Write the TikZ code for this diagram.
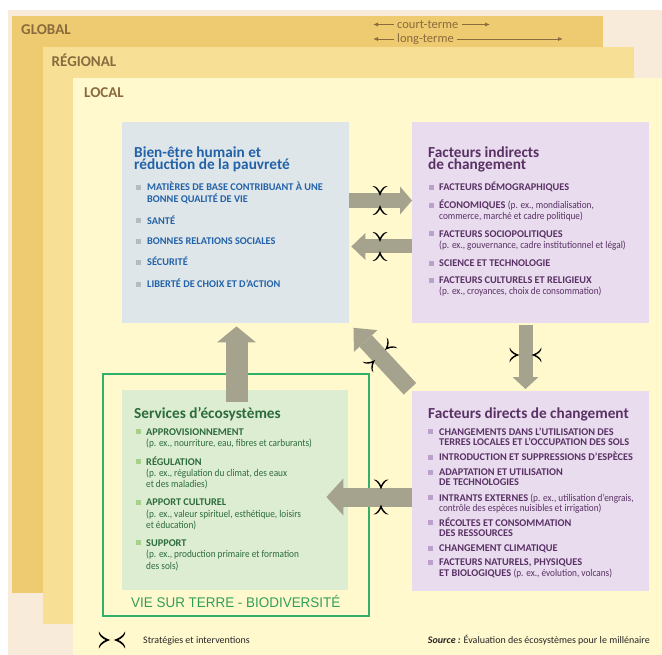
\documentclass[tikz,border=0pt]{standalone}
\usepackage{fontspec}
\setmainfont{Carlito}
\newfontfamily\cnd[FakeStretch=0.9]{Carlito}
\newfontfamily\arl[FakeStretch=0.96]{Liberation Sans}
\usetikzlibrary{arrows.meta}
\definecolor{outerbg}{HTML}{F9EBD9}
\definecolor{globalbg}{HTML}{EECB70}
\definecolor{regionbg}{HTML}{F7E096}
\definecolor{localbg}{HTML}{FFF9CD}
\definecolor{bienbg}{HTML}{DFE6E9}
\definecolor{purpbg}{HTML}{E8DCEE}
\definecolor{greenbg}{HTML}{DDEDD2}
\definecolor{arrowc}{HTML}{A5A38D}
\definecolor{bluet}{HTML}{2262A8}
\definecolor{purpt}{HTML}{5A3165}
\definecolor{greent}{HTML}{2C6B3B}
\definecolor{brownt}{HTML}{8A6B3D}
\definecolor{greenline}{HTML}{30B068}
\definecolor{viet}{HTML}{2F9E5A}
\definecolor{bgrey}{HTML}{B3BCC1}
\definecolor{bpurp}{HTML}{BBA0CC}
\definecolor{bgreen}{HTML}{A7D08C}
\newcommand\parx[1]{{\cnd\mdseries #1}}
\tikzset{
  pics/interv/.style={code={
    \foreach \s in {1,-1}{
      \fill[black,yscale=\s] (-7.5,-#1-10) .. controls (-3,-#1-8) and (-1,-#1-3) .. (0,-#1)
        .. controls (1,-#1-3) and (3,-#1-8) .. (7.5,-#1-10)
        .. controls (3.8,-#1-10.5) and (1.2,-#1-6.5) .. (0,-#1-4)
        .. controls (-1.2,-#1-6.5) and (-3.8,-#1-10.5) .. (-7.5,-#1-10) -- cycle;
    }
  }}
}
\begin{document}
\begin{tikzpicture}[x=1pt,y=-1pt,
  itm/.style={inner sep=0pt, anchor=base west, font=\fontsize{10.3}{12}\selectfont\bfseries},
  ttl/.style={inner sep=0pt, anchor=base west, font=\fontsize{15.3}{15}\selectfont\bfseries},
  ttlb/.style={inner sep=0pt, anchor=north west, align=left, font=\fontsize{15.3}{12.5}\selectfont\bfseries},
  lvl/.style={inner sep=0pt, anchor=base west, text=brownt, font=\fontsize{15}{15}\selectfont\bfseries},
  trm/.style={inner sep=0pt, anchor=base west, text=brownt, font=\fontsize{12.5}{13}\selectfont},
  tarrow/.style={draw=brownt, line width=0.8pt, -{Latex[length=5pt,width=4pt]}},
  bul/.style={inner sep=0pt, minimum size=5pt, draw=none},
  box/.style={inner sep=0pt, anchor=north west, draw=none},
  fat/.style n args={3}{draw=arrowc, line width=#1pt, -{Triangle[width=#2pt,length=#3pt,line width=0pt]}},
  leg/.style={inner sep=0pt, text=black!85, font=\fontsize{10}{12}\selectfont}]
\useasboundingbox (0,0) rectangle (662,655);
\fill[white] (0,0) rectangle (662,655);
\fill[outerbg] (8,10) rectangle (662,655);
% scale panels
\fill[globalbg] (12,16) rectangle (603,593);
\fill[regionbg] (43,47) rectangle (634,624);
\fill[localbg] (73,78) rectangle (662,655);
\node[lvl] (lglob) at (21,35) {GLOBAL};
\node[lvl] (lreg) at (51.5,66.5) {RÉGIONAL};
\node[lvl] (lloc) at (84,97.3) {LOCAL};
% time scale
\node[trm] (ct) at (397,28.5) {court-terme};
\node[trm] (lt) at (397,43) {long-terme};
\coordinate (ctl) at (373,24.5);
\coordinate (ctr) at (490,24.5);
\coordinate (ltl) at (373,39);
\coordinate (ltr) at (563,39);
\draw[tarrow, shorten <=3pt] (ct.west |- ctl) -- (ctl);
\draw[tarrow, shorten <=3pt] (ct.east |- ctr) -- (ctr);
\draw[tarrow, shorten <=3pt] (lt.west |- ltl) -- (ltl);
\draw[tarrow, shorten <=3pt] (lt.east |- ltr) -- (ltr);
% boxes
\node[box, draw=greenline, line width=2pt, minimum width=266pt, minimum height=242pt] (frame) at (102,373) {};
\node[box, fill=bienbg, minimum width=227pt, minimum height=201pt] (bien) at (122,122) {};
\node[box, fill=purpbg, minimum width=237pt, minimum height=201pt] (ind) at (412,122) {};
\node[box, fill=greenbg, minimum width=226pt, minimum height=200pt] (serv) at (122,390) {};
\node[box, fill=purpbg, minimum width=237pt, minimum height=200pt] (dir) at (412,391) {};
% arrows
\draw[fat={15}{28}{12}] (bien.east |- 0,200.5) -- (ind.west |- 0,200.5);
\draw[fat={14}{27}{14}, shorten >=2pt] (ind.west |- 0,246.5) -- (bien.east |- 0,246.5);
\draw[fat={17}{32}{18}, shorten <=3pt, shorten >=6pt] (dir.north west) -- (bien.south east);
\draw[fat={14}{26}{12}, shorten <=2pt, shorten >=2pt] (ind.south -| 525.5,0) -- (dir.north -| 525.5,0);
\draw[fat={19}{37}{17}, shorten >=-22pt] (dir.west |- 0,497) -- (serv.east |- 0,497);
\draw[fat={22}{39}{16}, shorten <=-12pt, shorten >=3pt] (serv.north -| 236.5,0) -- (bien.south -| 236.5,0);
% strategies symbols
\pic (s1) at (380,200.5) {interv=4.5};
\pic (s2) at (380,246.5) {interv=4.5};
\pic[rotate=-45] (s3) at (380,355) {interv=7};
\pic[rotate=90] (s4) at (525.5,355) {interv=6};
\pic (s5) at (381,497) {interv=7.5};
% Bien-etre
\begin{scope}[text=bluet]
\node[ttlb] (bt) at (134,145.3) {\rule{0pt}{12pt}Bien-être humain et\\réduction de la pauvreté};
\node[itm] (bi1) at (147,191) {MATIÈRES DE BASE CONTRIBUANT À UNE};
\node[itm] (bi1b) at (147,202.7) {BONNE QUALITÉ DE VIE};
\node[itm] (bi2) at (147,224.3) {SANTÉ};
\node[itm] (bi3) at (147,245) {BONNES RELATIONS SOCIALES};
\node[itm] (bi4) at (147,266) {SÉCURITÉ};
\node[itm] (bi5) at (147,287.7) {LIBERTÉ DE CHOIX ET D’ACTION};
\end{scope}
\foreach \yy [count=\i] in {191,224.3,245,266,287.7}
  \node[bul, fill=bgrey] (bb\i) at (138,\yy-3.3) {};
% Facteurs indirects
\begin{scope}[text=purpt]
\node[ttlb] (it) at (428,145.3) {\rule{0pt}{12pt}Facteurs indirects\\de changement};
\node[itm] (ii1) at (439,191) {FACTEURS DÉMOGRAPHIQUES};
\node[itm] (ii2) at (439,209) {ÉCONOMIQUES \parx{(p. ex., mondialisation,}};
\node[itm] (ii2b) at (439,219.3) {\parx{commerce, marché et cadre politique)}};
\node[itm] (ii3) at (439,237.3) {FACTEURS SOCIOPOLITIQUES};
\node[itm] (ii3b) at (439,248.3) {\parx{(p. ex., gouvernance, cadre institutionnel et légal)}};
\node[itm] (ii4) at (439,266.7) {SCIENCE ET TECHNOLOGIE};
\node[itm] (ii5) at (439,284) {FACTEURS CULTURELS ET RELIGIEUX};
\node[itm] (ii5b) at (439,295) {\parx{(p. ex., croyances, choix de consommation)}};
\end{scope}
\foreach \yy [count=\i] in {191,209,237.3,266.7,284}
  \node[bul, fill=bpurp] (ib\i) at (431.5,\yy-3.3) {};
% Facteurs directs
\begin{scope}[text=purpt]
\node[ttl] (dt1) at (428,418.3) {Facteurs directs de changement};
\node[itm] (di1) at (439,435) {CHANGEMENTS DANS L’UTILISATION DES};
\node[itm] (di1b) at (439,445.7) {TERRES LOCALES ET L’OCCUPATION DES SOLS};
\node[itm] (di2) at (439,460.7) {INTRODUCTION ET SUPPRESSIONS D’ESPÈCES};
\node[itm] (di3) at (439,475.7) {ADAPTATION ET UTILISATION};
\node[itm] (di3b) at (439,485.7) {DE TECHNOLOGIES};
\node[itm] (di4) at (439,501) {INTRANTS EXTERNES \parx{(p. ex., utilisation d’engrais,}};
\node[itm] (di4b) at (439,511) {\parx{contrôle des espèces nuisibles et irrigation)}};
\node[itm] (di5) at (439,526) {RÉCOLTES ET CONSOMMATION};
\node[itm] (di5b) at (439,536) {DES RESSOURCES};
\node[itm] (di6) at (439,551.7) {CHANGEMENT CLIMATIQUE};
\node[itm] (di7) at (439,565.7) {FACTEURS NATURELS, PHYSIQUES};
\node[itm] (di7b) at (439,576.7) {ET BIOLOGIQUES \parx{(p. ex., évolution, volcans)}};
\end{scope}
\foreach \yy [count=\i] in {435,460.7,475.7,501,526,551.7,565.7}
  \node[bul, fill=bpurp] (db\i) at (430.5,\yy-3.3) {};
% Services
\begin{scope}[text=greent]
\node[ttl] (st1) at (134,418.3) {Services d’écosystèmes};
\node[itm] (si1) at (146,435) {APPROVISIONNEMENT};
\node[itm] (si1b) at (146,446.7) {\parx{(p. ex., nourriture, eau, fibres et carburants)}};
\node[itm] (si2) at (146,465) {RÉGULATION};
\node[itm] (si2b) at (146,476.7) {\parx{(p. ex., régulation du climat, des eaux}};
\node[itm] (si2c) at (146,487.3) {\parx{et des maladies)}};
\node[itm] (si3) at (146,505.7) {APPORT CULTUREL};
\node[itm] (si3b) at (146,517.3) {\parx{(p. ex., valeur spirituel, esthétique, loisirs}};
\node[itm] (si3c) at (146,528.3) {\parx{et éducation)}};
\node[itm] (si4) at (146,546) {SUPPORT};
\node[itm] (si4b) at (146,557.7) {\parx{(p. ex., production primaire et formation}};
\node[itm] (si4c) at (146,569.3) {\parx{des sols)}};
\end{scope}
\foreach \yy [count=\i] in {435,465,505.7,546}
  \node[bul, fill=bgreen] (sb\i) at (138.5,\yy-3.3) {};
\node[inner sep=0pt, anchor=base west, text=viet, font=\arl\fontsize{14}{14}\selectfont] (vie) at (131,607.3) {VIE SUR TERRE - BIODIVERSITÉ};
% legend
\pic[rotate=90, scale=1.15] (lsym) at (112,640) {interv=1.5};
\node[leg, anchor=base west] (legt) at (143,643) {Stratégies et interventions};
\node[leg, anchor=base east] (src) at (650,643) {\textbf{\textit{Source :}} Évaluation des écosystèmes pour le millénaire};
\end{tikzpicture}
\end{document}
